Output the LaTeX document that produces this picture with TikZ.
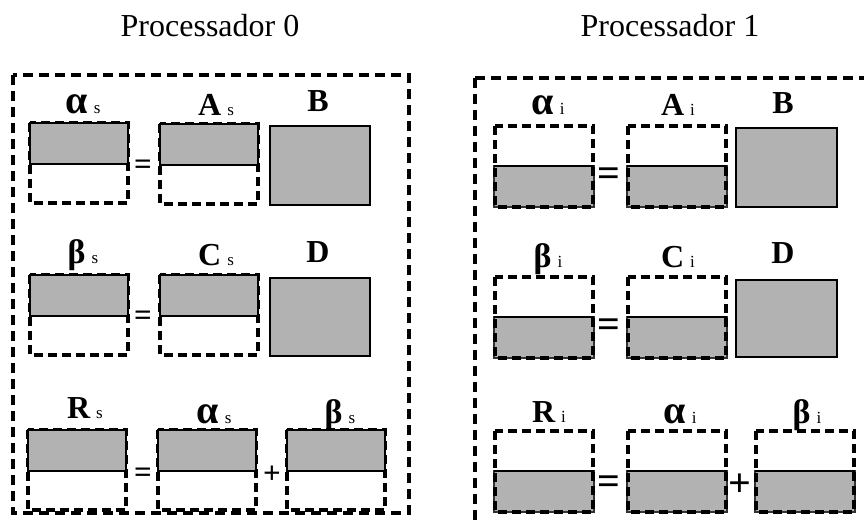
\documentclass[tikz,border=0pt]{standalone}
\usepackage{fontspec}
\setmainfont{Liberation Serif}

\definecolor{cinza}{gray}{0.7}

\tikzset{
  frame/.style={line width=3.2pt, dash pattern=on 10pt off 6pt},
  dashbox/.style={line width=3.2pt, dash pattern=on 9pt off 5pt},
  fullbox/.style={fill=cinza, draw=black, line width=2.8pt},
  lowbox/.style={fill=cinza, draw=black!80, line width=1.4pt},
  lbl/.style={anchor=base, inner sep=0pt, font=\fontsize{32}{32}\selectfont\bfseries},
  op/.style={inner sep=0pt, font=\fontsize{31}{31}\selectfont\bfseries},
  bigop/.style={inner sep=0pt, font=\fontsize{40}{40}\selectfont\bfseries},
  titulo/.style={anchor=base, inner sep=0pt, font=\fontsize{32}{32}\selectfont},
}

% subscript of the labels
\newcommand{\idx}[1]{\hspace{6pt}{\fontsize{17}{17}\mdseries\selectfont #1}}
% greek letters a bit larger
\newcommand{\alfaG}{{\fontsize{40}{40}\selectfont α}}
\newcommand{\betaG}{{\fontsize{34}{34}\selectfont β}}
% block with the local part on top
\newcommand{\blocoS}[2]{%
  \draw[dashbox] (#1,#2) rectangle ++(98,80);
  \draw[fullbox] (#1,#2) rectangle ++(98,41);}
% block with the local part below
\newcommand{\blocoI}[2]{%
  \draw[lowbox] (#1-1,#2+40) rectangle ++(100,41);
  \draw[dashbox] (#1,#2) rectangle ++(98,81);
  \draw[line width=2.8pt] (#1-1,#2+40) -- ++(100,0);}

\begin{document}
\begin{tikzpicture}[x=1pt, y=-1pt]
\useasboundingbox (0,0) rectangle (864,523);
\clip (0,0) rectangle (864,523);

% Titles
\node[titulo] (proc0) at (210,36) {Processador 0};
\node[titulo] (proc1) at (670,36) {Processador 1};

% Frames
\draw[frame] (13,75) rectangle (409,513);
\draw[frame] (475,78) rectangle (885,545);

% Processador 0
\blocoS{30}{123}
\blocoS{160}{124}
\draw[fullbox] (270,126) rectangle (370,205);
\node[lbl] (alfaS) at (83,113) {\alfaG\idx{s}};
\node[lbl] (aS) at (216,115) {A\idx{s}};
\node[lbl] (bS) at (318,111) {B};
\node[op] (eq1) at (143,167) {=};

\blocoS{30}{275}
\blocoS{160}{275}
\draw[fullbox] (270,278) rectangle (370,356);
\node[lbl] (betaS) at (83,263) {\betaG\idx{s}};
\node[lbl] (cS) at (216,265) {C\idx{s}};
\node[lbl] (dS) at (318,262) {D};
\node[op] (eq2) at (143,318) {=};

\blocoS{28}{430}
\blocoS{158}{430}
\blocoS{287}{430}
\node[lbl] (rS) at (85,418) {R\idx{s}};
\node[lbl] (alfaS2) at (214,423) {\alfaG\idx{s}};
\node[lbl] (betaS2) at (340,423) {\betaG\idx{s}};
\node[op] (eq3) at (143,475) {=};
\node[op] (mais) at (272,475) {+};

% Processador 1
\blocoI{495}{126}
\blocoI{628}{126}
\draw[fullbox] (736,128) rectangle (837,207);
\node[lbl] (alfaI) at (548,114) {\alfaG\idx{i}};
\node[lbl] (aI) at (678,115) {A\idx{i}};
\node[lbl] (bI) at (783,113) {B};
\node[bigop] (eq4) at (609,177) {=};

\blocoI{495}{277}
\blocoI{628}{277}
\draw[fullbox] (736,280) rectangle (837,357);
\node[lbl] (betaI) at (548,267) {\betaG\idx{i}};
\node[lbl] (cI) at (678,267) {C\idx{i}};
\node[lbl] (dI) at (783,263) {D};
\node[bigop] (eq5) at (609,328) {=};

\blocoI{495}{431}
\blocoI{628}{431}
\blocoI{756}{431}
\node[lbl] (rI) at (549,422) {R\idx{i}};
\node[lbl] (alfaI2) at (680,423) {\alfaG\idx{i}};
\node[lbl] (betaI2) at (807,423) {\betaG\idx{i}};
\node[bigop] (eq6) at (609,485) {=};
\node[bigop] (mais2) at (740,485) {+};
\end{tikzpicture}
\end{document}
